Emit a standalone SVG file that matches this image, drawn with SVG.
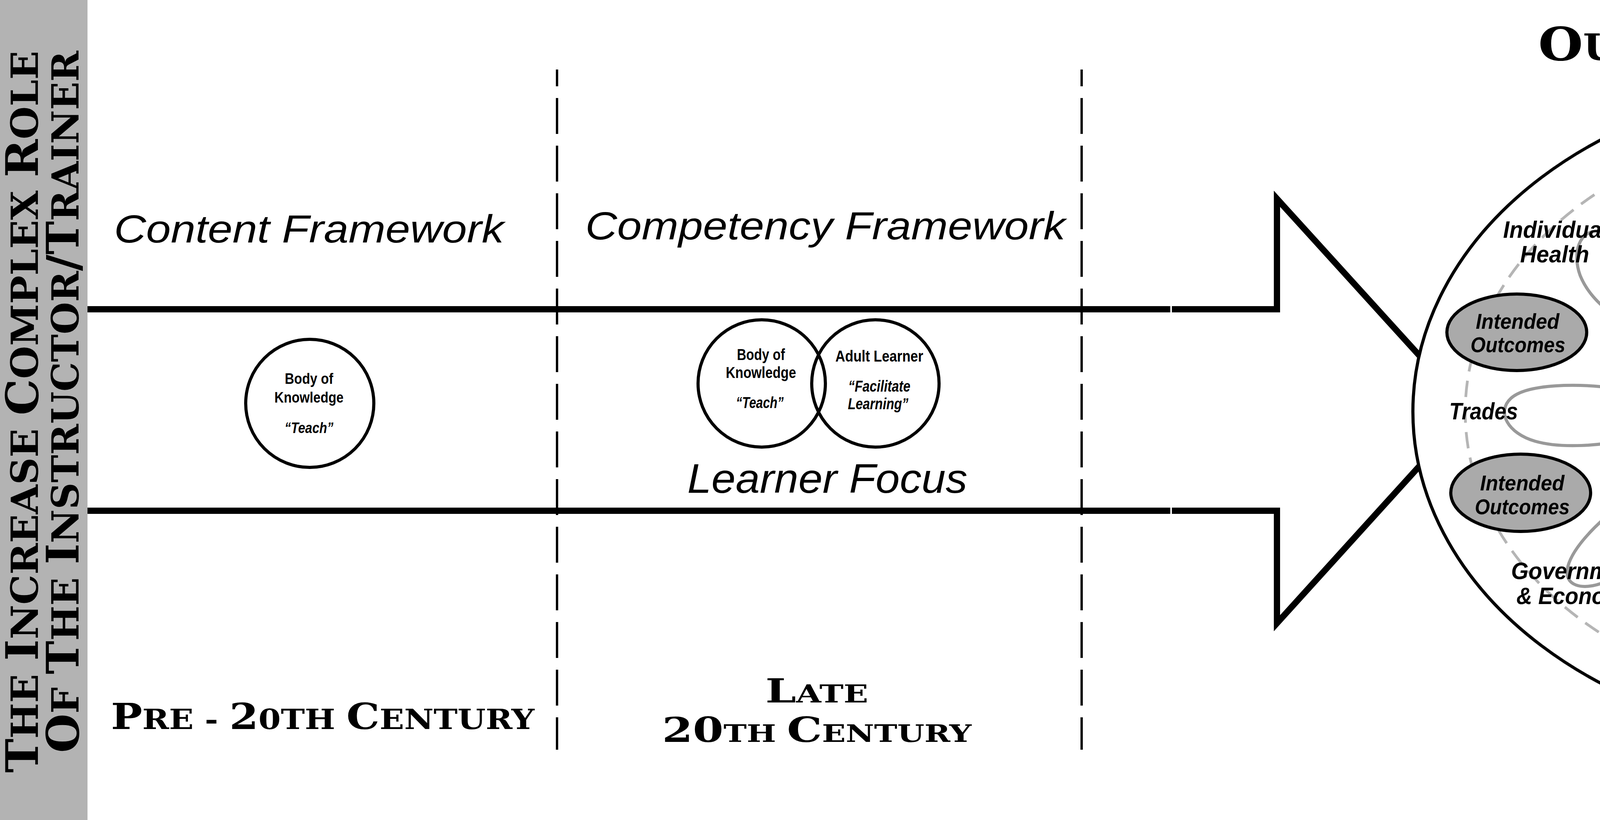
<svg xmlns="http://www.w3.org/2000/svg" width="6000" height="2100" viewBox="0 0 6000 2100">
<defs>
<style>
.cap{font-family:"DejaVu Serif","Liberation Serif",serif;font-weight:bold;fill:#000}
.hd{font-family:"Liberation Sans",Arial,sans-serif;font-style:italic;fill:#000;text-anchor:middle}
.vn{font-family:"Liberation Sans",Arial,sans-serif;font-weight:bold;fill:#000;text-anchor:middle}
.vi{font-style:italic}
.lbl{font-family:"Liberation Sans",Arial,sans-serif;font-weight:bold;font-style:italic;font-size:61px;fill:#000;text-anchor:middle}
.io{font-family:"Liberation Sans",Arial,sans-serif;font-weight:bold;font-style:italic;font-size:56px;fill:#000;text-anchor:middle}
.ds{font-family:"Liberation Sans",Arial,sans-serif;fill:#000;text-anchor:middle}
.ring{fill:#fff;stroke:#000;stroke-width:8}
.circ{fill:none;stroke:#000;stroke-width:8}
.goal{fill:#aaaaaa;stroke:#000;stroke-width:8}
.flow{fill:none;stroke:#999999;stroke-width:8;marker-end:url(#ah)}
</style>
<marker id="ah" markerUnits="userSpaceOnUse" viewBox="0 0 80 58" markerWidth="80" markerHeight="58" refX="10" refY="29" orient="auto">
<path d="M0,0 L80,29 L0,58 L10,29 Z" fill="#999999"/>
</marker>
</defs>
<rect width="6000" height="2100" fill="#ffffff"/>

<g id="title-bar">
<rect x="0" y="0" width="224" height="2100" fill="#b3b3b3"/>
<text class="cap" transform="translate(97,1979) rotate(-90)" textLength="1849" lengthAdjust="spacingAndGlyphs" font-size="115"><tspan>T</tspan><tspan font-size="95">HE </tspan><tspan>I</tspan><tspan font-size="95">NCREASE </tspan><tspan>C</tspan><tspan font-size="95">OMPLEX </tspan><tspan>R</tspan><tspan font-size="95">OLE</tspan></text>
<text class="cap" transform="translate(201,1928) rotate(-90)" textLength="1798" lengthAdjust="spacingAndGlyphs" font-size="115"><tspan>O</tspan><tspan font-size="95">F </tspan><tspan>T</tspan><tspan font-size="95">HE </tspan><tspan>I</tspan><tspan font-size="95">NSTRUCTOR</tspan><tspan>/T</tspan><tspan font-size="95">RAINER</tspan></text>
</g>

<g id="timeline-arrow" fill="none" stroke="#000" stroke-width="16" stroke-linejoin="miter" stroke-miterlimit="6">
<path d="M224 792 H2996"/>
<path d="M224 1308 H2996"/>
<path d="M3000 792 H3269 V509 L3762 1052 L3269 1596 V1308 H3000"/>
</g>

<g id="dividers" stroke="#000" stroke-width="6" stroke-dasharray="92 30" stroke-dashoffset="49" fill="none">
<line x1="1426" y1="178" x2="1426" y2="1920"/>
<line x1="2769" y1="178" x2="2769" y2="1920"/>
</g>

<g id="content-framework">
<text class="hd" x="791" y="621" font-size="100" textLength="998" lengthAdjust="spacingAndGlyphs">Content Framework</text>
<circle class="circ" cx="793" cy="1033" r="164"/>
<text class="vn" x="791" y="983" font-size="38" textLength="124" lengthAdjust="spacingAndGlyphs">Body of</text>
<text class="vn" x="791" y="1031" font-size="38" textLength="177" lengthAdjust="spacingAndGlyphs">Knowledge</text>
<text class="vn vi" x="791" y="1109" font-size="38" textLength="125" lengthAdjust="spacingAndGlyphs">“Teach”</text>
<text class="cap" x="826" y="1867" text-anchor="middle" font-size="92" textLength="1084" lengthAdjust="spacingAndGlyphs"><tspan>P</tspan><tspan font-size="71">RE - </tspan><tspan>2</tspan><tspan font-size="71">0TH </tspan><tspan>C</tspan><tspan font-size="71">ENTURY</tspan></text>
</g>

<g id="competency-framework">
<text class="hd" x="2113" y="613" font-size="100" textLength="1229" lengthAdjust="spacingAndGlyphs">Competency Framework</text>
<circle class="circ" cx="1950" cy="982" r="163"/>
<circle class="circ" cx="2241" cy="982" r="163"/>
<text class="vn" x="1948" y="922" font-size="40" textLength="123" lengthAdjust="spacingAndGlyphs">Body of</text>
<text class="vn" x="1948" y="968" font-size="40" textLength="180" lengthAdjust="spacingAndGlyphs">Knowledge</text>
<text class="vn vi" x="1945" y="1045" font-size="40" textLength="122" lengthAdjust="spacingAndGlyphs">“Teach”</text>
<text class="vn" x="2251" y="926" font-size="40" textLength="225" lengthAdjust="spacingAndGlyphs">Adult Learner</text>
<text class="vn vi" x="2251" y="1003" font-size="40" textLength="159" lengthAdjust="spacingAndGlyphs">“Facilitate</text>
<text class="vn vi" x="2248" y="1048" font-size="40" textLength="155" lengthAdjust="spacingAndGlyphs">Learning”</text>
<text class="hd" x="2118" y="1262" font-size="105" textLength="717" lengthAdjust="spacingAndGlyphs">Learner Focus</text>
<text class="cap" x="2091" y="1799" text-anchor="middle" font-size="85" textLength="263" lengthAdjust="spacingAndGlyphs"><tspan>L</tspan><tspan font-size="63">ATE</tspan></text>
<text class="cap" x="2091" y="1900" text-anchor="middle" font-size="88" textLength="792" lengthAdjust="spacingAndGlyphs"><tspan>20</tspan><tspan font-size="62">TH </tspan><tspan>C</tspan><tspan font-size="62">ENTURY</tspan></text>
</g>

<g id="outcomes-framework">
<text class="cap" x="4741" y="154" text-anchor="middle" font-size="117" textLength="1606" lengthAdjust="spacingAndGlyphs"><tspan>O</tspan><tspan font-size="93">UTCOMES </tspan><tspan>F</tspan><tspan font-size="93">RAMEWORK</tspan></text>
<ellipse class="ring" cx="4741" cy="1054" rx="1124" ry="848"/>
<ellipse cx="4738" cy="1055" rx="987" ry="745" fill="none" stroke="#b5b5b5" stroke-width="7" stroke-dasharray="42 24"/>
<text class="cap" x="4738" y="1980" text-anchor="middle" font-size="80" textLength="692" lengthAdjust="spacingAndGlyphs"><tspan>21</tspan><tspan font-size="60">ST </tspan><tspan>C</tspan><tspan font-size="60">ENTURY</tspan></text>
</g>

<g id="intended-outcomes-ul">
<ellipse class="goal" cx="3883" cy="851" rx="179" ry="98"/>
<text class="io" x="3885" y="842" textLength="214" lengthAdjust="spacingAndGlyphs">Intended</text>
<text class="io" x="3886" y="902" textLength="243" lengthAdjust="spacingAndGlyphs">Outcomes</text>
</g>
<g id="intended-outcomes-ur">
<ellipse class="goal" cx="5574" cy="850" rx="179" ry="98"/>
<text class="io" x="5582" y="839" textLength="214" lengthAdjust="spacingAndGlyphs">Intended</text>
<text class="io" x="5582" y="899" textLength="242" lengthAdjust="spacingAndGlyphs">Outcomes</text>
</g>
<g id="intended-outcomes-ll">
<ellipse class="goal" cx="3893" cy="1262" rx="179" ry="99"/>
<text class="io" x="3897" y="1256" textLength="216" lengthAdjust="spacingAndGlyphs">Intended</text>
<text class="io" x="3897" y="1317" textLength="243" lengthAdjust="spacingAndGlyphs">Outcomes</text>
</g>
<g id="intended-outcomes-lr">
<ellipse class="goal" cx="5612" cy="1262" rx="179" ry="99"/>
<text class="io" x="5611" y="1256" textLength="216" lengthAdjust="spacingAndGlyphs">Intended</text>
<text class="io" x="5612" y="1317" textLength="243" lengthAdjust="spacingAndGlyphs">Outcomes</text>
</g>

<g id="connectors">
<path class="flow" d="M4801 594 L4801 440 C4801 370 4770 305 4732 305 C4690 305 4655 370 4649 450 C4645 510 4652 560 4660 604"/>
<path class="flow" d="M4520 622 C4490 520 4440 400 4365 392 C4300 386 4300 470 4318 540 C4335 610 4370 665 4412 705"/>
<path class="flow" d="M4293 737 C4240 670 4160 600 4100 592 C4040 585 4025 650 4045 705 C4075 780 4160 835 4232 855"/>
<path class="flow" d="M5174 730 C5195 660 5228 580 5227 520 C5226 470 5205 440 5175 440 C5130 440 5110 480 5098 530 C5085 590 5081 650 5081 705"/>
<path class="flow" d="M5302 877 C5370 800 5460 710 5466 655 C5472 600 5410 595 5360 618 C5290 650 5230 720 5193 778"/>
<path class="flow" d="M5340 1126 C5430 1138 5560 1135 5605 1100 C5645 1068 5625 1010 5560 990 C5480 968 5380 980 5315 993"/>
<path class="flow" d="M4133 994 C4040 982 3910 982 3868 1020 C3830 1055 3860 1110 3930 1130 C4000 1150 4100 1140 4163 1127"/>
<path class="flow" d="M4193 1259 C4120 1310 4030 1390 4014 1450 C4000 1500 4050 1515 4110 1490 C4190 1455 4260 1395 4304 1338"/>
<path class="flow" d="M4359 1412 C4330 1510 4300 1620 4315 1670 C4330 1715 4390 1715 4430 1670 C4480 1610 4515 1520 4535 1454"/>
<path class="flow" d="M4677 1510 C4672 1600 4670 1700 4710 1730 C4750 1760 4810 1740 4830 1700 C4858 1640 4856 1560 4848 1485"/>
<path class="flow" d="M5040 1452 C5055 1550 5090 1660 5160 1668 C5230 1676 5245 1590 5232 1520 C5218 1450 5185 1400 5155 1364"/>
<path class="flow" d="M5227 1327 C5280 1400 5370 1480 5445 1492 C5510 1502 5515 1440 5480 1385 C5430 1310 5350 1245 5287 1202"/>
</g>

<g id="design-backwards">
<ellipse class="circ" cx="4738" cy="1052" rx="610" ry="460"/>
<text class="ds" x="4745" y="711" font-size="62" textLength="582" lengthAdjust="spacingAndGlyphs">Design Backwards</text>
<text class="ds" x="4745" y="793" font-size="62" textLength="319" lengthAdjust="spacingAndGlyphs">Outside-in</text>
<text class="ds" x="4741" y="876" font-size="45" font-style="italic" textLength="598" lengthAdjust="spacingAndGlyphs">Think and plan systemically</text>
</g>

<g id="body-of-knowledge">
<circle class="circ" cx="4563" cy="1137" r="199"/>
<text class="vn" x="4563" y="1089" font-size="44" textLength="146" lengthAdjust="spacingAndGlyphs">Body of</text>
<text class="vn" x="4562" y="1135" font-size="44" textLength="217" lengthAdjust="spacingAndGlyphs">Knowledge</text>
<text class="vn vi" x="4561" y="1215" font-size="44" textLength="147" lengthAdjust="spacingAndGlyphs">“Teach”</text>
</g>
<g id="adult-learner">
<circle class="circ" cx="4918" cy="1137" r="198"/>
<text class="vn" x="4916" y="1098" font-size="44" textLength="270" lengthAdjust="spacingAndGlyphs">Adult Learner</text>
<text class="vn vi" x="4916" y="1174" font-size="44" textLength="126" lengthAdjust="spacingAndGlyphs">“Guide</text>
<text class="vn vi" x="4913" y="1220" font-size="44" textLength="180" lengthAdjust="spacingAndGlyphs">Learning”</text>
</g>

<g id="families"><text class="lbl" x="4738" y="322" textLength="287" lengthAdjust="spacingAndGlyphs">Families &amp;</text><text class="lbl" x="4739" y="385" textLength="432" lengthAdjust="spacingAndGlyphs">Community Life</text></g>
<g id="environment"><text class="lbl" x="4276" y="430" textLength="353" lengthAdjust="spacingAndGlyphs">Environment</text></g>
<g id="international"><text class="lbl" x="5228" y="428" textLength="354" lengthAdjust="spacingAndGlyphs">International</text><text class="lbl" x="5230" y="492" textLength="258" lengthAdjust="spacingAndGlyphs">Relations</text></g>
<g id="individual-health"><text class="lbl" x="3982" y="609" textLength="268" lengthAdjust="spacingAndGlyphs">Individual</text><text class="lbl" x="3980" y="672" textLength="177" lengthAdjust="spacingAndGlyphs">Health</text></g>
<g id="lifelong-learning"><text class="lbl" x="5481" y="595" textLength="222" lengthAdjust="spacingAndGlyphs">Lifelong</text><text class="lbl" x="5481" y="658" textLength="242" lengthAdjust="spacingAndGlyphs">Learning</text></g>
<g id="trades"><text class="lbl" x="3798" y="1074" textLength="176" lengthAdjust="spacingAndGlyphs">Trades</text></g>
<g id="professions"><text class="lbl" x="5637" y="1074" textLength="321" lengthAdjust="spacingAndGlyphs">Professions</text></g>
<g id="government"><text class="lbl" x="4037" y="1483" textLength="337" lengthAdjust="spacingAndGlyphs">Government</text><text class="lbl" x="4036" y="1547" textLength="308" lengthAdjust="spacingAndGlyphs">&amp; Economy</text></g>
<g id="continuous-learning"><text class="lbl" x="5476" y="1471" textLength="311" lengthAdjust="spacingAndGlyphs">Continuous</text><text class="lbl" x="5475" y="1535" textLength="241" lengthAdjust="spacingAndGlyphs">Learning</text></g>
<g id="national-security"><text class="lbl" x="4337" y="1717" textLength="229" lengthAdjust="spacingAndGlyphs">National</text><text class="lbl" x="4337" y="1780" textLength="228" lengthAdjust="spacingAndGlyphs">Security</text></g>
<g id="global-community"><text class="lbl" x="4763" y="1771" textLength="171" lengthAdjust="spacingAndGlyphs">Global</text><text class="lbl" x="4764" y="1832" textLength="312" lengthAdjust="spacingAndGlyphs">Community</text></g>
<g id="business-industry"><text class="lbl" x="5198" y="1680" textLength="303" lengthAdjust="spacingAndGlyphs">Business &amp;</text><text class="lbl" x="5200" y="1744" textLength="227" lengthAdjust="spacingAndGlyphs">Industry</text></g>
</svg>
